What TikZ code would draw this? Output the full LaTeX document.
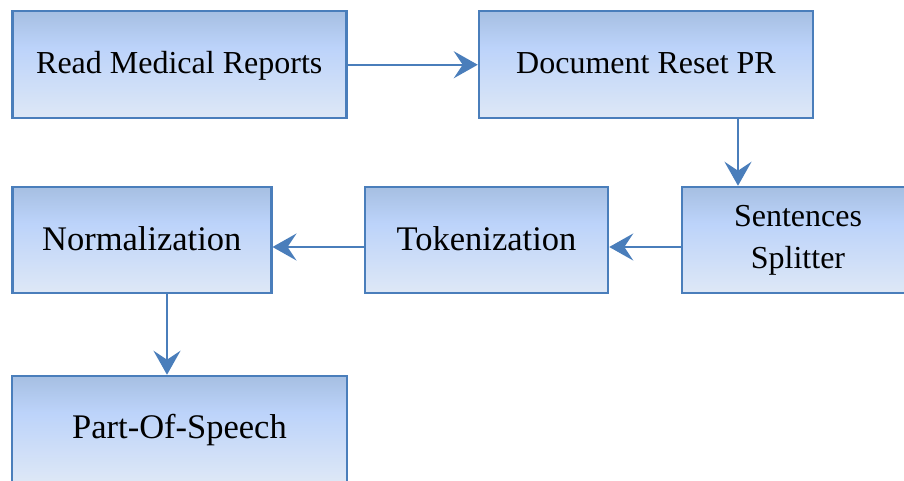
\documentclass[tikz,border=0pt]{standalone}
\usepackage{fontspec}
\setmainfont{Liberation Serif}
\usetikzlibrary{arrows.meta}

\definecolor{flowline}{RGB}{74,126,187}
\definecolor{boxtop}{RGB}{166,191,226}
\definecolor{boxmid}{RGB}{188,211,250}
\definecolor{boxbot}{RGB}{222,232,246}

% vertical fill of the process boxes (TikZ fits the path to 25bp..75bp)
\pgfdeclareverticalshading{boxfill}{100bp}{%
  color(0bp)=(boxbot); color(25bp)=(boxbot); color(58bp)=(boxmid);
  color(75bp)=(boxtop); color(100bp)=(boxtop)}

\tikzset{
  procbox/.style={draw=flowline, line width=2.5pt, shading=boxfill,
    rectangle, inner sep=0pt, align=center,
    font=\fontsize{32}{41}\selectfont},
  bigtext/.style={font=\fontsize{34.5}{41}\selectfont},
  flow/.style={draw=flowline, line width=2.2pt,
    -{Stealth[length=24pt, width=27pt, inset=9pt]}}
}

\begin{document}
\begin{tikzpicture}[x=1pt, y=-1pt]
  \useasboundingbox (0,0) rectangle (904,481);

  \node[procbox, minimum width=334pt, minimum height=107pt,
        text height=22pt, text depth=3.5pt] (read)  at (179.25,64.75) {Read Medical Reports};
  \node[procbox, minimum width=334pt, minimum height=107pt,
        text height=22pt, text depth=3.5pt] (reset) at (646,64.75)    {Document Reset PR};
  \node[procbox, minimum width=232pt, minimum height=106pt] (split) at (798,240) {Sentences\\[1pt]Splitter};
  \node[procbox, bigtext, minimum width=243pt, minimum height=106pt,
        text height=24pt, text depth=2.6pt] (token) at (486.5,240)    {Tokenization};
  \node[procbox, bigtext, minimum width=259pt, minimum height=106pt,
        text height=24pt, text depth=2.6pt] (norm)  at (141.75,240)   {Normalization};
  \node[procbox, bigtext, minimum width=335pt, minimum height=107pt,
        text height=22pt, text depth=5pt] (pos)   at (179.5,429.5)  {Part-Of-Speech};

  % guide coordinates for connectors that leave a box off its centre
  \coordinate (downA) at (738,0);
  \coordinate (rowB)  at (0,247);
  \coordinate (downB) at (167,0);

  \draw[flow] (read.east) -- (reset.west);
  \draw[flow] (reset.south -| downA) -- (split.north -| downA);
  \draw[flow] (split.west |- rowB) -- (token.east |- rowB);
  \draw[flow] (token.west |- rowB) -- (norm.east |- rowB);
  \draw[flow] (norm.south -| downB) -- (pos.north -| downB);
\end{tikzpicture}
\end{document}
